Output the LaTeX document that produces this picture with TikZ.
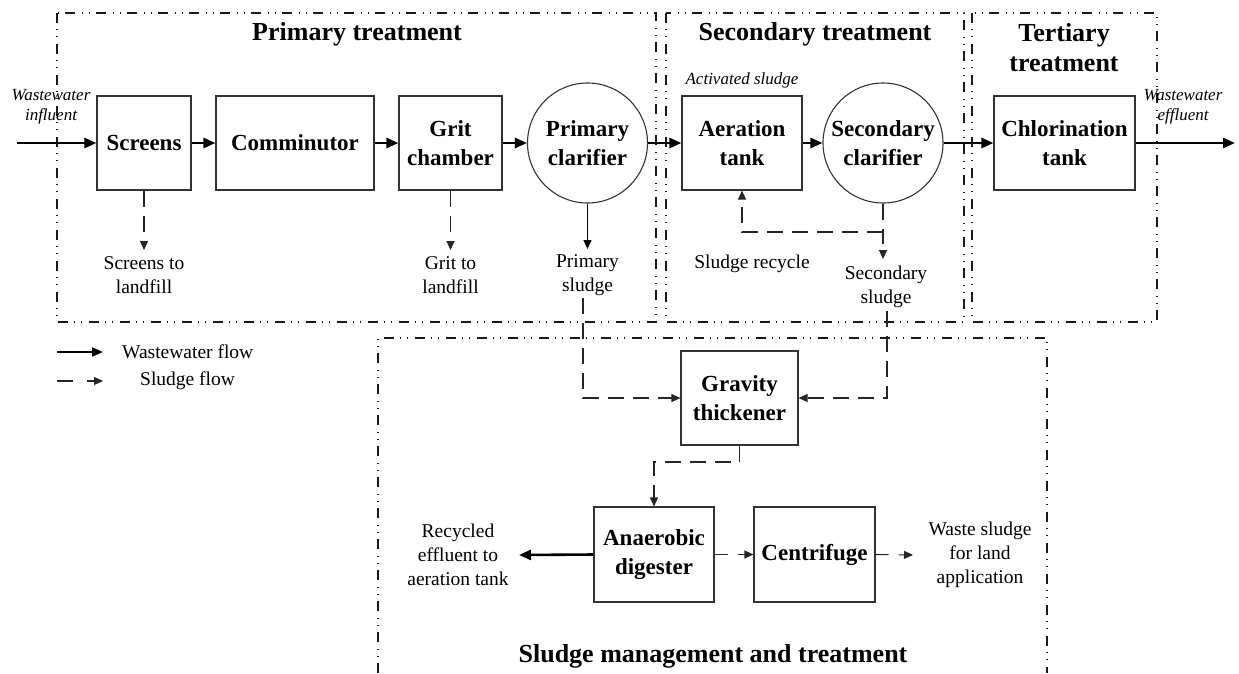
\documentclass[tikz,border=0pt]{standalone}
\usepackage{fontspec}
\setmainfont{Liberation Serif}
\usetikzlibrary{arrows.meta}
\begin{document}
\begin{tikzpicture}[x=1pt,y=-1pt,
  box/.style={draw=black!80, line width=1.1pt, inner sep=0pt, align=center,
    font=\bfseries\fontsize{23}{28.5}\selectfont},
  circ/.style={circle, draw=black!80, line width=1.1pt, minimum size=120pt, inner sep=0pt, align=center,
    font=\bfseries\fontsize{23}{28.5}\selectfont},
  lbl/.style={font=\fontsize{19.5}{24}\selectfont, align=center, inner sep=0pt},
  ital/.style={font=\itshape\fontsize{17}{20}\selectfont, align=center, inner sep=0pt},
  ttl/.style={font=\bfseries\fontsize{26}{30}\selectfont, align=center, inner sep=0pt},
  flow/.style={line width=2.6pt, -{Triangle[length=12pt,width=10pt]}},
  sludge/.style={line width=1.1pt, black!85, dash pattern=on 16pt off 9pt, -{Triangle[length=9pt,width=8pt]}},
  sludgeplain/.style={line width=1.1pt, black!85, dash pattern=on 16pt off 9pt},
  thinarrow/.style={line width=1.1pt, -{Triangle[length=9pt,width=8pt]}},
  region/.style={line width=1.4pt, black!90, dash pattern=on 10pt off 6pt on 1pt off 6pt on 1pt off 7pt},
]
\useasboundingbox (0,0) rectangle (1239,673);

% regions
\draw[region] (57,13) rectangle (656,322);
\draw[region] (666,13) rectangle (964,322);
\draw[region] (972,13) rectangle (1157,322);
\draw[region] (378,673) -- (378,338) -- (1047,338) -- (1047,673);

% titles
\node[ttl] (tprim) at (357,34) {Primary treatment};
\node[ttl] (tsec) at (815,34) {Secondary treatment};
\node[ttl] (tter) at (1064,48) {Tertiary\\treatment};
\node[ttl] (tsl) at (713,656) {Sludge management and treatment};

% main line
\node[box, minimum width=94pt, minimum height=94pt] (scr) at (144,143) {Screens};
\node[box, minimum width=158pt, minimum height=94pt] (com) at (295,143) {Comminutor};
\node[box, minimum width=103pt, minimum height=94pt] (grit) at (450.5,143) {Grit\\chamber};
\node[circ] (pc) at (587.5,143) {Primary\\clarifier};
\node[box, minimum width=120pt, minimum height=94pt] (aer) at (742,143) {Aeration\\tank};
\node[circ] (sc) at (883,143) {Secondary\\clarifier};
\node[box, minimum width=141pt, minimum height=94pt] (chl) at (1064.5,143) {Chlorination\\tank};

% sludge line
\node[box, minimum width=117pt, minimum height=94pt] (thk) at (739.5,398) {Gravity\\thickener};
\node[box, minimum width=120pt, minimum height=95pt] (ad) at (654,554.5) {Anaerobic\\digester};
\node[box, minimum width=121pt, minimum height=95pt] (cf) at (814.5,554.5) {Centrifuge};

% italic labels
\node[ital] (win) at (51,107) {Wastewater\\influent};
\node[ital] (wef) at (1183,107) {Wastewater\\effluent};
\node[ital] (act) at (742,80) {Activated sludge};

% plain labels
\node[lbl] (scrl) at (144,275) {Screens to\\landfill};
\node[lbl] (gritl) at (450.5,275) {Grit to\\landfill};
\node[lbl] (psl) at (587.5,275) {Primary\\sludge};
\node[lbl] (recl) at (752,264) {Sludge recycle};
\node[lbl] (ssl) at (886,287) {Secondary\\sludge};
\node[lbl] (rec) at (458,555) {Recycled\\effluent to\\aeration tank};
\node[lbl] (wsl) at (980,555) {Waste sludge\\for land\\application};

% coordinates
\coordinate (inl) at (17,143);
\coordinate (outl) at (1235,143);
\coordinate (scrt) at (144,250);
\coordinate (gritt) at (450.5,250);
\coordinate (pst) at (587.5,249);
\coordinate (psb) at (583,298);
\coordinate (sj) at (883,232);
\coordinate (sst) at (883,259);
\coordinate (ssb) at (887,311);
\coordinate (tj) at (739.5,462);
\coordinate (rect) at (519,555);
\coordinate (wst) at (913,555);

% wastewater flow
\draw[flow] (inl) -- (scr);
\draw[flow] (scr) -- (com);
\draw[flow] (com) -- (grit);
\draw[flow] (grit) -- (pc);
\draw[flow] (pc) -- (aer);
\draw[flow] (aer) -- (sc);
\draw[flow] (sc) -- (chl);
\draw[flow] (chl) -- (outl);
\draw[flow] (ad.west) -- (rect);

% sludge flow
\draw[sludge] (scr.south) -- (scrt);
\draw[sludge] (grit.south) -- (gritt);
\draw[thinarrow] (pc.south) -- (pst);
\draw[sludge] (psb) |- (thk.west);
\draw[sludgeplain] (sc.south) -- (sj);
\draw[sludge] (sj) -| (aer.south);
\draw[sludge, dash pattern=on 12pt off 6pt] (sj) -- (sst);
\draw[sludge] (ssb) |- (thk.east);
\draw[sludge] (thk.south) -- (tj) -| (ad.north);
\draw[sludge, dash pattern=on 13pt off 10pt] (ad.east) -- (cf.west);
\draw[sludge, dash pattern=on 13pt off 10pt] (cf.east) -- (wst);

% legend
\coordinate (lg1a) at (57,352);
\coordinate (lg1b) at (103,352);
\coordinate (lg2a) at (57,381);
\coordinate (lg2b) at (103,381);
\draw[flow, line width=2pt, -{Triangle[length=11pt,width=9pt]}] (lg1a) -- (lg1b);
\draw[sludge, dash pattern=on 16pt off 14pt] (lg2a) -- (lg2b);
\node[lbl, anchor=west] (lgt1) at (122,352) {Wastewater flow};
\node[lbl, anchor=west] (lgt2) at (140,381) {Sludge flow};
\end{tikzpicture}
\end{document}
